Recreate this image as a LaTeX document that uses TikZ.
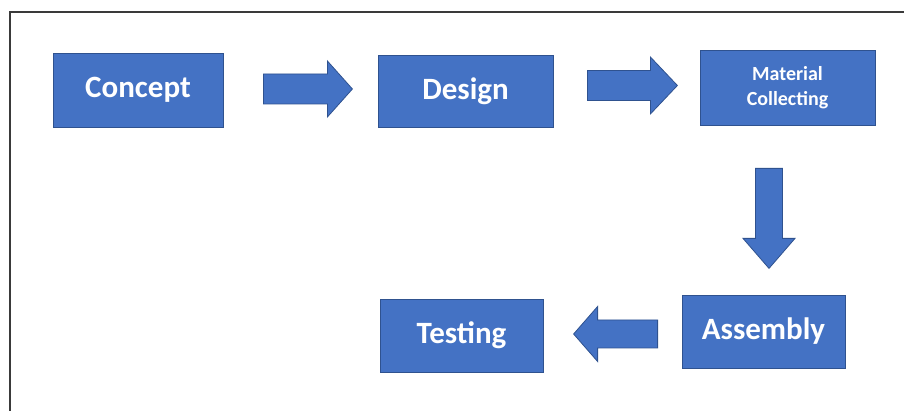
\documentclass[tikz,border=0pt]{standalone}
\usepackage{fontspec}
\setmainfont{Carlito}
\begin{document}
\definecolor{boxblue}{HTML}{4472C4}
\definecolor{boxedge}{HTML}{2F528F}
\definecolor{framegray}{HTML}{3A3A3A}
\begin{tikzpicture}[x=1pt,y=1pt,
  stage/.style={fill=boxblue,draw=boxedge,line width=0.8pt,text=white,
    font=\bfseries\fontsize{31}{36}\selectfont,inner sep=0pt,align=center},
  smallstage/.style={stage,font=\bfseries\fontsize{20}{25}\selectfont},
  arrowbody/.style={fill=boxblue,draw=boxedge,line width=0.8pt,line join=miter},
  pics/blockarrow/.style args={#1/#2/#3/#4}{code={
    % length / shaft half-width / head half-width / head length
    \path[arrowbody] (0,-#2) -- (#1-#4,-#2) -- (#1-#4,-#3) -- (#1,0)
      -- (#1-#4,#3) -- (#1-#4,#2) -- (0,#2) -- cycle;
  }}]
\useasboundingbox (0,0) rectangle (904,411);
\fill[white] (0,0) rectangle (904,411);

% page frame (left and top edges)
\draw[framegray,line width=2pt] (10,0) -- (10,398.5) -- (904,398.5);

% process stages
\node[stage,minimum width=170,minimum height=74] (concept) at (138,321) {Concept};
\node[stage,minimum width=175,minimum height=72] (design) at (465.5,320) {Design};
\node[smallstage,minimum width=175,minimum height=75] (material) at (787.5,323.5) {Material\\Collecting};
\node[stage,minimum width=163,minimum height=73] (assembly) at (763.5,79.5) {Assembly};
\node[stage,minimum width=163,minimum height=73] (testing) at (461.5,75.5) {Testing};

% block arrows between the stages
\pic at ([xshift=40,yshift=1]concept.east) {blockarrow=89/15/28/25};
\pic at ([xshift=34,yshift=5.5]design.east) {blockarrow=90/15/28.5/27};
\pic[rotate=-90] at ([xshift=-18.5,yshift=-43]material.south) {blockarrow=100/13.5/26/30};
\pic[rotate=180] at ([xshift=-24,yshift=-2.5]assembly.west) {blockarrow=84/14/27.5/24};
\end{tikzpicture}
\end{document}
